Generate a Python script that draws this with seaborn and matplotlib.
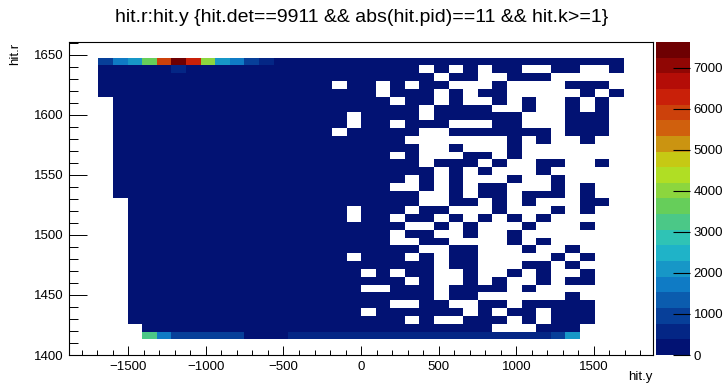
import numpy as np
import matplotlib
matplotlib.use("Agg")
import matplotlib.pyplot as plt
from matplotlib.colors import ListedColormap, BoundaryNorm
import seaborn as sns

plt.rcParams['font.family'] = ['Liberation Sans', 'DejaVu Sans']

# ---------------- data ----------------
TITLE = "hit.r:hit.y {hit.det==9911 && abs(hit.pid)==11 && hit.k>=1}"
X_LABEL = "hit.y"
Y_LABEL = "hit.r"
X_RANGE = (-1880.0, 1880.0)     # hit.y axis range
Y_RANGE = (1400.0, 1660.8)      # hit.r axis range
N_X = 40
N_Y = 40
Z_MAX = 7630
N_CONTOURS = 20
X_TICKS = [-1500, -1000, -500, 0, 500, 1000, 1500]
Y_TICKS = [1400, 1450, 1500, 1550, 1600, 1650]
Z_TICKS = [0, 1000, 2000, 3000, 4000, 5000, 6000, 7000]

# approximate counts for each colour band seen in the cells
LEVEL_COUNTS = {'.': 0, 'n': 190, '2': 570, '3': 950, '4': 1340, '5': 1720,
                '6': 2100, '7': 2480, '9': 3240, 'a': 3620, 'b': 4000,
                'g': 5910, 'h': 6290, 'k': 7600}

# bins from top (hit.r bin 39) to bottom (bin 0); 40 hit.y bins per row
ROWS = [
    "........................................",
    "........................................",
    "..356agkhb6532nnnn" + "nnnnnnnnnnnnnnnnnnnn" + "..",
    "..nnnnn2nnnnnnnnnn" + "nnnnnn.n.n.nn..nn..n" + "..",
    "..nnnnnnnnnnnnnnnn" + "nnnnnnn.nn..nnn....." + "..",
    "..nnnnnnnnnnnnnnnn" + ".nn.n.nn...n....nnn." + "..",
    "..nnnnnnnnnnnnnnnn" + "nnn.nnn.n.nn.....n.n" + "..",
    "...nnnnnnnnnnnnnnn" + "nnnn.nn.n..n.n..n.n." + "..",
    "...nnnnnnnnnnnnnnn" + "nnnnnn.nnnn..n..n.n." + "..",
    "...nnnnnnnnnnnnnnn" + "n.nnnn.nnnnnn...nnn." + "..",
    "...nnnnnnnnnnnnnnn" + "n.nn.nnn...nn...nnn." + "..",
    "...nnnnnnnnnnnnnnn" + ".nnnnn..nnnnnnn.nnn." + "..",
    "...nnnnnnnnnnnnnnn" + "nnnnn.......n.n..n.." + "..",
    "...nnnnnnnnnnnnnnn" + "nnnnnn..n...n......." + "..",
    "...nnnnnnnnnnnnnnn" + "nnnn.n...nn.n......." + "..",
    "...nnnnnnnnnnnnnnn" + "nnnnnn.nnn.n..nn..n." + "..",
    "...nnnnnnnnnnnnnnn" + "nnnnnnn.n.n...n....." + "..",
    "...nnnnnnnnnnnnnnn" + "nnnnn.n.n...n..n...." + "..",
    "...nnnnnnnnnnnnnnn" + "nnnn..n.n.nn...n.n.." + "..",
    "...nnnnnnnnnnnnnnn" + "nnnnnn..n.nn.nnn.n.." + "..",
    "....nnnnnnnnnnnnnn" + "nnnnnn..nn.n.n...nn." + "..",
    "....nnnnnnnnnnnnnn" + "n.nnn.nn...n...n.n.." + "..",
    "....nnnnnnnnnnnnnn" + "n.nn.nn.n.n.n.n....." + "..",
    "....nnnnnnnnnnnnnn" + "nnnnn..n.n...n...n.." + "..",
    "....nnnnnnnnnnnnnn" + "nnnn.nn..n..n......." + "..",
    "....nnnnnnnnnnnnnn" + "nnnn..nn....n.n....." + "..",
    "....nnnnnnnnnnnnnn" + "nnnnnn..nn...n..n..." + "..",
    "....nnnnnnnnnnnnnn" + "n.nnn.n.nn.....n.n.." + "..",
    "....nnnnnnnnnnnnnn" + "nnnnnnn.nn...nn.n..." + "..",
    "....nnnnnnnnnnnnnn" + "nn.n.nn..n..n.n..n.." + "..",
    "....nnnnnnnnnnnnnn" + "nnnnn.n..n.n..n.nn.." + "..",
    "....nnnnnnnnnnnnnn" + "nn..nnn.nnnn.n......" + "..",
    "....nnnnnnnnnnnnnn" + "nnnnnnn.nn......n..." + "..",
    "....nnnnnnnnnnnnnn" + "nnnn..nn..nn.nnnnn.." + "..",
    "....nnnnnnnnnnnnnn" + "nn.nnnnnn.n.nn.nnn.." + "..",
    "....nnnnnnnnnnnnnn" + "nnnnn.n..nnn.n.nnn.." + "..",
    ".....nnnnnnnnnnnnn" + "nnnnnnnnnnn...nnn..." + "..",
    ".....9533333nnn222" + "22222222222222236..." + "..",
    "........................................",
    "........................................",
]

# ---------------- build the histogram array ----------------
for r in ROWS:
    assert len(r) == N_X, (len(r), r)
counts = np.array([[LEVEL_COUNTS[c] for c in row] for row in ROWS], dtype=float)

# ROOT kRainBow palette, 20 contour colours
stops = [0.0, 0.125, 0.25, 0.375, 0.5, 0.625, 0.75, 0.875, 1.0]
R = [0, 5, 15, 35, 102, 196, 208, 199, 110]
G = [0, 48, 124, 192, 206, 226, 97, 16, 0]
B = [99, 142, 198, 201, 90, 22, 13, 8, 2]
band_cols = []
for i in range(N_CONTOURS):
    idx = int((i + 0.99) * 255 / N_CONTOURS)
    f = min(idx / 254.0, 1.0)
    band_cols.append((np.interp(f, stops, R) / 255, np.interp(f, stops, G) / 255,
                      np.interp(f, stops, B) / 255))
cmap = ListedColormap(band_cols)
levels = np.linspace(0, Z_MAX, N_CONTOURS + 1)
norm = BoundaryNorm(levels, N_CONTOURS)

W, H = 724, 385
fig = plt.figure(figsize=(W / 100, H / 100), dpi=100)
ax_l, ax_r, ax_t, ax_b = 69.3, 652.9, 42.0, 355.0
ax = fig.add_axes([ax_l / W, 1 - ax_b / H, (ax_r - ax_l) / W, (ax_b - ax_t) / H])
cax = fig.add_axes([656 / W, 1 - ax_b / H, 33.5 / W, (ax_b - ax_t) / H])

sns.heatmap(counts, mask=(counts == 0), cmap=cmap, norm=norm, ax=ax, cbar_ax=cax,
            xticklabels=False, yticklabels=False, linewidths=0,
            cbar_kws={'ticks': Z_TICKS})

DX = (X_RANGE[1] - X_RANGE[0]) / N_X
DY = (Y_RANGE[1] - Y_RANGE[0]) / N_Y


def xpos(v):
    return (v - X_RANGE[0]) / DX


def ypos(v):
    return (Y_RANGE[1] - v) / DY


ax.set_xlim(0, N_X)
ax.set_ylim(N_Y, 0)
for s in ax.spines.values():
    s.set_visible(True)
    s.set_linewidth(0.8)
    s.set_color('black')

ax.set_xticks([xpos(v) for v in X_TICKS])
ax.set_xticklabels([str(v).replace('-', '\u2212') for v in X_TICKS], rotation=0)
ax.set_xticks([xpos(v) for v in range(-1800, 1801, 100)], minor=True)
ax.set_yticks([ypos(v) for v in Y_TICKS])
ax.set_yticklabels([str(v) for v in Y_TICKS], rotation=0)
ax.set_yticks([ypos(v) for v in range(1400, 1661, 10)], minor=True)
ax.tick_params(axis='x', which='major', direction='in', length=6.8, width=0.7,
               pad=4, labelsize=9.5, bottom=True, top=False)
ax.tick_params(axis='x', which='minor', direction='in', length=3.4, width=0.7,
               bottom=True, top=False)
ax.tick_params(axis='y', which='major', direction='in', length=12.6, width=0.7,
               pad=4, labelsize=9.5, left=True, right=False)
ax.tick_params(axis='y', which='minor', direction='in', length=6.3, width=0.7,
               left=True, right=False)
ax.set_xlabel('')
ax.set_ylabel('')

cb = ax.collections[0].colorbar
cb.outline.set_visible(False)
cb.set_ticks(Z_TICKS)
cb.set_ticklabels([str(v) for v in Z_TICKS])
cax.tick_params(direction='in', length=12, width=0.8, pad=3, labelsize=9.5,
                colors='black', right=True, left=False)
cax.minorticks_off()

fig.text(362 / W, 1 - 18 / H, TITLE, ha='center', va='center', fontsize=14)
fig.text(ax_r / W, 1 - 377 / H, X_LABEL, ha='right', va='center', fontsize=9.5)
fig.text(15 / W, 1 - 43 / H, Y_LABEL, ha='center', va='top', rotation=90,
         fontsize=9.5)

fig.savefig('out.png', dpi=100)
